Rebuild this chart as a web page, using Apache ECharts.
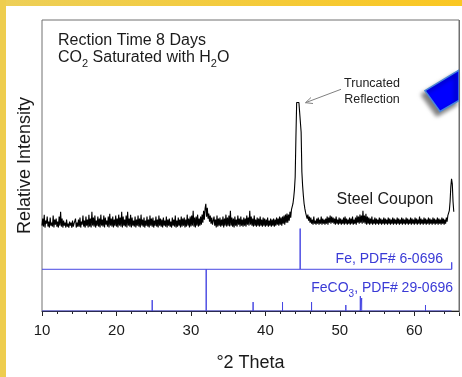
<!DOCTYPE html>
<html><head><meta charset="utf-8">
<script src="https://cdn.jsdelivr.net/npm/echarts/dist/echarts.min.js"></script>
<style>html,body{margin:0;padding:0;background:#fff}#c{width:462px;height:377px}</style>
</head><body><div id="c"></div>
<script>
// ---- data ----
const twoThetaStart = 10.0;
const twoThetaStep = 0.1;
// Steel coupon pattern (relative intensity, arbitrary units), 10.0 .. 65.3 °2θ
const couponIntensity = [
86,93,85,97,84,91,88,95,85,90,
84,94,86,89,85,96,84,92,87,93,
85,90,84,95,86,100,85,93,84,91,
86,89,84,92,85,88,84,90,86,89,
84,91,85,88,86,93,84,89,85,92,
85,94,84,90,87,96,85,91,84,95,
86,92,84,97,85,93,84,100,86,94,
85,96,84,91,86,95,85,93,84,97,
86,92,85,96,84,94,87,91,85,95,
84,98,86,93,85,95,84,92,86,96,
85,93,84,97,86,94,85,100,84,95,
86,92,85,96,84,100,86,93,85,97,
84,94,86,91,85,95,84,92,86,96,
85,93,84,97,86,92,85,94,84,91,
86,95,85,92,84,96,86,93,85,94,
84,91,86,95,85,92,84,96,86,93,
85,92,84,94,86,91,85,95,84,92,
86,93,85,90,84,94,86,92,85,96,
84,91,85,94,86,92,84,95,85,93,
86,94,84,92,85,97,86,93,84,95,
85,96,86,101,85,94,84,95,86,97,
85,93,86,95,87,97,89,101,92,103,
108,95,104,93,98,90,96,88,94,87,
85,95,86,92,84,96,85,93,86,94,
85,92,86,95,84,93,86,97,85,94,
86,96,85,101,86,94,85,93,84,95,
86,92,85,96,87,93,85,95,86,92,
85,94,86,93,85,96,87,94,86,101,
87,95,86,93,85,96,86,92,85,94,
86,93,85,95,86,92,85,94,86,93,
85,92,86,94,85,91,86,93,85,92,
86,93,85,92,86,94,87,93,86,95,
87,94,86,95,88,96,87,97,89,98,
89,97,91,100,94,102,103,108,114,122,
135,175,210,210,210,210,210,210,180,140,
126,116,108,103,99,96,93,97,91,95,
89,94,88,92,87,95,88,91,87,93,
88,94,87,92,88,95,87,93,88,92,
87,93,88,95,87,94,89,96,88,95,
89,94,88,93,87,95,88,92,87,94,
88,93,87,92,88,94,87,95,88,93,
87,92,88,94,87,93,88,95,87,92,
88,94,87,96,89,95,88,97,89,96,
88,101,89,96,88,98,87,95,88,94,
87,93,88,95,87,92,88,94,87,93,
88,92,87,94,88,93,87,92,88,94,
87,93,88,92,87,94,88,93,87,92,
88,94,87,93,88,92,87,94,88,93,
87,92,88,94,87,93,88,92,87,94,
88,93,87,92,88,94,87,93,88,92,
87,94,88,93,87,92,88,95,87,93,
88,92,87,94,88,93,87,92,88,94,
87,93,88,92,87,94,88,93,87,92,
88,94,87,93,88,92,87,94,88,93,
87,92,88,94,90,96,94,101,110,125,
133,128,110,100
];
// Fe reference, PDF# 6-0696
const fePositions = [44.67, 65.02];
const feHeights = [41, 7];
const feOffset = 42;
// FeCO3 reference, PDF# 29-0696
const feco3Positions = [24.80, 32.05, 38.35, 42.30, 46.20, 50.80, 52.75, 52.93, 60.30, 61.50, 64.65];
const feco3Heights = [11, 42, 9, 9, 9, 6, 15, 13, 2, 6, 2];
const feco3End = 65.0;
const xTickLabels = [10, 20, 30, 40, 50, 60];

// ---- build series data ----
const couponData = couponIntensity.map((v, i) => [+(twoThetaStart + i * twoThetaStep).toFixed(2), v]);
function sticks(pos, h, base, start, end) {
  const d = [[start, base]];
  pos.forEach((p, i) => { d.push([p, base], [p, base + h[i]], [p, base]); });
  if (end != null) d.push([end, base]);
  return d;
}
const feData = sticks(fePositions, feHeights, feOffset, twoThetaStart, null);
const feco3Data = sticks(feco3Positions, feco3Heights, 0, twoThetaStart, feco3End);

const FONT = 'Liberation Sans, Arial, sans-serif';
const BLUE_LINE = '#4848e2';
const BLUE_TEXT = '#3a3ad6';

const chart = echarts.init(document.getElementById('c'), null, {renderer: 'canvas'});
chart.setOption({
  animation: false,
  textStyle: {fontFamily: FONT},
  grid: {left: 42, top: 20, right: 3, bottom: 64, show: true, borderColor: '#707070', borderWidth: 1, backgroundColor: 'transparent'},
  xAxis: [{
    type: 'value', min: 10, max: 66, interval: 2, position: 'bottom',
    name: '°2 Theta', nameLocation: 'middle', nameGap: 43,
    nameTextStyle: {fontSize: 18, color: '#1a1a1a', fontFamily: FONT},
    axisLine: {lineStyle: {color: '#222', width: 1}},
    axisTick: {length: 3, lineStyle: {color: '#222'}},
    axisLabel: {fontSize: 15, color: '#1a1a1a', margin: 12, fontFamily: FONT,
      formatter: v => xTickLabels.indexOf(v) >= 0 ? String(v) : ''},
    splitLine: {show: false}
  }, {
    type: 'value', min: 10, max: 66, interval: 10, position: 'bottom', offset: 0,
    axisLine: {show: false},
    axisTick: {length: 5, lineStyle: {color: '#222'}},
    axisLabel: {show: false},
    splitLine: {show: false}
  }],
  yAxis: {
    type: 'value', min: 0, max: 293,
    name: 'Relative Intensity', nameLocation: 'middle', nameGap: 8,
    nameTextStyle: {fontSize: 18, color: '#1a1a1a', fontFamily: FONT},
    axisLine: {show: false}, axisTick: {show: false}, axisLabel: {show: false}, splitLine: {show: false}
  },
  series: [
    {type: 'line', data: feco3Data, showSymbol: false, lineStyle: {color: BLUE_LINE, width: 1}, z: 3},
    {type: 'line', data: feData, showSymbol: false, lineStyle: {color: BLUE_LINE, width: 1}, z: 3},
    {type: 'line', data: couponData, showSymbol: false, sampling: null, lineStyle: {color: '#000', width: 1.1}, z: 4}
  ],
  graphic: [
    {type: 'rect', shape: {x: 0, y: 0, width: 462, height: 6}, style: {fill: new echarts.graphic.LinearGradient(0, 0, 1, 0, [{offset: 0, color: '#EDCF58'}, {offset: 1, color: '#FAC722'}])}, z: 50},
    {type: 'rect', shape: {x: 0, y: 0, width: 6, height: 377}, style: {fill: '#EECD4E'}, z: 50},
    {type: 'polygon', shape: {points: [[425, 90.7], [459, 70], [459, 100.5], [440, 111.5]]},
      style: {fill: '#0000ff', stroke: '#4a86d8', lineWidth: 1.5, shadowBlur: 4, shadowColor: 'rgba(0,0,0,0.5)', shadowOffsetX: -3, shadowOffsetY: 4}, z: 40},
    {type: 'line', shape: {x1: 459.5, y1: 20, x2: 459.5, y2: 313}, style: {stroke: '#707070', lineWidth: 1}, z: 45},
    {type: 'text', x: 58, y: 40.5, style: {text: 'Rection Time 8 Days', fontSize: 16, fontFamily: FONT, fill: '#1a1a1a', align: 'left', verticalAlign: 'middle'}, z: 60},
    {type: 'text', x: 58, y: 57.7, style: {text: 'CO{s|2} Saturated with H{s|2}O', fontSize: 16, fontFamily: FONT, fill: '#1a1a1a', align: 'left', verticalAlign: 'middle',
      rich: {s: {fontSize: 11, fontFamily: FONT, fill: '#1a1a1a', padding: [13, 0, 0, 0]}}}, z: 60},
    {type: 'text', x: 372, y: 83.3, style: {text: 'Truncated', fontSize: 12.5, fontFamily: FONT, fill: '#222', align: 'center', verticalAlign: 'middle'}, z: 60},
    {type: 'text', x: 372, y: 100, style: {text: 'Reflection', fontSize: 12.5, fontFamily: FONT, fill: '#222', align: 'center', verticalAlign: 'middle'}, z: 60},
    {type: 'line', shape: {x1: 341, y1: 89.3, x2: 305.5, y2: 102.7}, style: {stroke: '#808080', lineWidth: 1}, z: 60},
    {type: 'polyline', shape: {points: [[311, 97.5], [305.5, 102.7], [313, 103.5]]}, style: {stroke: '#808080', lineWidth: 1, fill: null}, z: 60},
    {type: 'text', x: 385, y: 199.7, style: {text: 'Steel Coupon', fontSize: 16, fontFamily: FONT, fill: '#1a1a1a', align: 'center', verticalAlign: 'middle'}, z: 60},
    {type: 'text', x: 443, y: 259.6, style: {text: 'Fe, PDF# 6-0696', fontSize: 14, fontFamily: FONT, fill: BLUE_TEXT, align: 'right', verticalAlign: 'middle'}, z: 60},
    {type: 'text', x: 453, y: 288.3, style: {text: 'FeCO{s|3}, PDF# 29-0696', fontSize: 14, fontFamily: FONT, fill: BLUE_TEXT, align: 'right', verticalAlign: 'middle',
      rich: {s: {fontSize: 10, fontFamily: FONT, fill: BLUE_TEXT, padding: [11, 0, 0, 0]}}}, z: 60}
  ]
});
</script></body></html>
